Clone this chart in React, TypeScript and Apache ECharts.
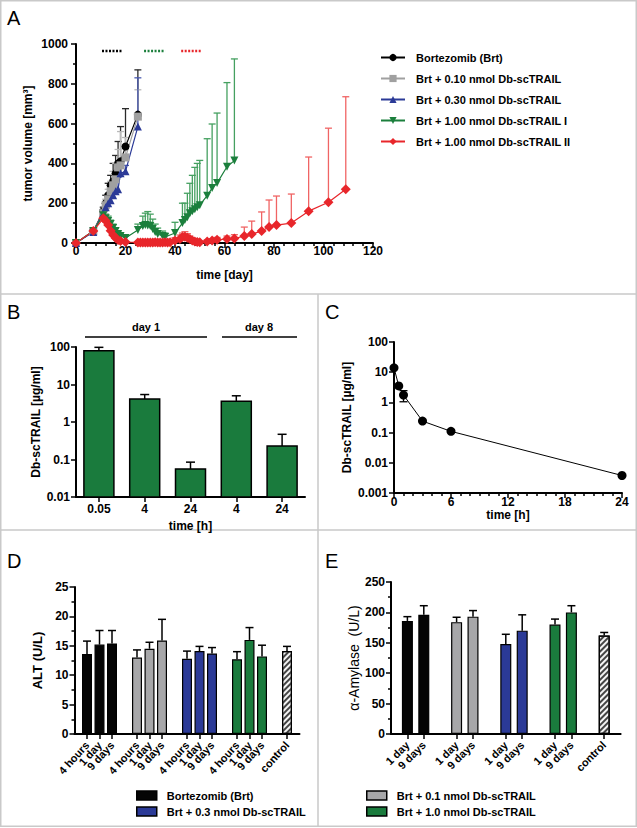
import React, { useEffect, useRef } from 'react';
import * as echarts from 'echarts';

const FONT = "'Liberation Sans', Arial, Helvetica, sans-serif";

// ---------- Panel A: tumor volume ----------
const aDaysEarly = [0, 7, 11, 12, 13, 14, 15, 16, 17, 18, 20, 25];
const aBrt = [0, 60, 160, 200, 240, 290, 310, 350, 400, 410, 485, 645];
const aBrtErr = [5, 10, 20, 40, 60, 50, 90, 90, 110, 175, 190, 225];
const aB01 = [0, 60, 150, 190, 220, 260, 290, 320, 380, 390, 430, 635];
const aB01Err = [5, 10, 20, 30, 50, 50, 70, 80, 90, 170, 100, 135];
const aB03 = [0, 55, 150, 180, 200, 215, 240, 260, 270, 350, 360, 585];
const aB03Err = [5, 10, 15, 25, 30, 35, 40, 50, 60, 30, 30, 245];
const aGreenDays = [0, 7, 11, 12, 13, 14, 15, 16, 17, 18, 20, 25, 27, 28, 29, 30, 31, 32, 33, 35, 36, 40, 43, 44, 45, 46, 47, 48, 49, 50, 53, 55, 57, 61, 64];
const aGreen = [0, 60, 140, 125, 110, 95, 75, 60, 45, 35, 25, 65, 85, 90, 88, 85, 70, 55, 45, 35, 30, 50, 100, 115, 130, 150, 160, 170, 180, 190, 238, 276, 301, 383, 414];
const aGreenErr = [5, 10, 15, 20, 25, 20, 20, 15, 15, 10, 10, 30, 50, 60, 70, 60, 50, 40, 30, 25, 20, 54, 100, 85, 120, 150, 180, 210, 220, 225, 286, 322, 352, 423, 511];
const aRedDays = [0, 7, 11, 12, 13, 14, 15, 16, 17, 18, 20, 25, 26, 27, 28, 29, 30, 31, 32, 33, 34, 35, 36, 37, 38, 40, 42, 43, 44, 45, 46, 47, 48, 49, 50, 53, 55, 57, 61, 64, 68, 71, 75, 78, 81, 87, 94, 102, 109];
const aRed = [0, 60, 124, 112, 90, 62, 40, 25, 15, 10, 5, 3, 2, 3, 2, 3, 2, 3, 4, 3, 2, 3, 4, 3, 4, 12, 20, 30, 32, 27, 20, 12, 8, 5, 4, 8, 12, 16, 20, 22, 35, 45, 60, 80, 90, 100, 160, 205, 270];
const aRedErr = [3, 8, 15, 18, 15, 10, 8, 6, 5, 4, 3, 3, 3, 3, 3, 3, 3, 3, 3, 3, 3, 3, 3, 3, 3, 15, 20, 20, 25, 20, 15, 10, 8, 5, 5, 8, 10, 12, 15, 20, 45, 65, 96, 136, 146, 146, 272, 372, 465];
const aTreatStart = [10.5, 27.5, 42.5];
const aTreatEnd = [18.5, 36, 50.5];
const aTreatLevel = 965;
const aNames = [
  'Bortezomib (Brt)',
  'Brt + 0.10 nmol Db-scTRAIL',
  'Brt + 0.30 nmol Db-scTRAIL',
  'Brt + 1.00 nmol Db-scTRAIL I',
  'Brt + 1.00 nmol Db-scTRAIL II',
];

// ---------- Panel B: serum levels ----------
const bCats = ['0.05', '4', '24', '4', '24'];
const bVals = [80, 4.1, 0.056, 3.6, 0.23];
const bErrHi = [98, 5.4, 0.085, 5.0, 0.47];
const bDayLabels = ['day 1', 'day 8'];

// ---------- Panel C: pharmacokinetics ----------
const cTime = [0, 0.5, 1, 3, 6, 24];
const cVals = [14, 3.5, 1.75, 0.24, 0.11, 0.0038];
const cErrTime = [1];
const cErrLo = [1.05];
const cErrHi = [2.45];

// ---------- Panel D: ALT ----------
const dTimes = ['4 hours', '1 day', '9 days'];
const dBrt = [13.6, 15.2, 15.4];
const dBrtHi = [15.8, 17.6, 17.6];
const d01 = [13.0, 14.5, 15.9];
const d01Hi = [14.3, 15.6, 19.5];
const d03 = [12.8, 14.1, 13.7];
const d03Hi = [14.1, 14.9, 14.7];
const d10 = [12.7, 16.0, 13.2];
const d10Hi = [14.0, 18.1, 15.1];
const dCtrl = [14.1];
const dCtrlHi = [14.9];

// ---------- Panel E: amylase ----------
const eTimes = ['1 day', '9 days'];
const eBrt = [186, 196];
const eBrtHi = [193, 211];
const e01 = [184, 193];
const e01Hi = [192, 203];
const e03 = [148, 170];
const e03Hi = [164, 196];
const e10 = [180, 200];
const e10Hi = [189, 211];
const eCtrl = [162];
const eCtrlHi = [167];

const groupNames = ['Bortezomib (Brt)', 'Brt + 0.1 nmol Db-scTRAIL', 'Brt + 0.3 nmol Db-scTRAIL', 'Brt + 1.0 nmol Db-scTRAIL'];
const ctrlName = 'control';

const C_BLACK = '#050505';
const C_GRAY = '#a7a7a9';
const C_BLUE = '#2b3a97';
const C_GREEN = '#1a7b3d';
const C_RED = '#e8262b';

function errSeries(name: string, xi: number, yi: number, data: any[], color: string, capW: number, lw: number, both = false) {
  return {
    type: 'custom',
    name,
    xAxisIndex: xi,
    yAxisIndex: yi,
    data,
    z: 1,
    silent: true,
    encode: { x: 0, y: [1, 2] },
    renderItem: (params: any, api: any) => {
      const x = api.value(0);
      const lo = api.value(1);
      const hi = api.value(2);
      const p1 = api.coord([x, lo]);
      const p2 = api.coord([x, hi]);
      const style = { stroke: color, lineWidth: lw, fill: 'none' };
      const children: any[] = [
        { type: 'line', shape: { x1: p1[0], y1: p1[1], x2: p2[0], y2: p2[1] }, style },
        { type: 'line', shape: { x1: p2[0] - capW / 2, y1: p2[1], x2: p2[0] + capW / 2, y2: p2[1] }, style },
      ];
      if (both) children.push({ type: 'line', shape: { x1: p1[0] - capW / 2, y1: p1[1], x2: p1[0] + capW / 2, y2: p1[1] }, style });
      return { type: 'group', children };
    },
  };
}

function buildCats(times: string[], nGroups: number) {
  const cats: string[] = [''];
  for (let g = 0; g < nGroups; g++) {
    cats.push(...times);
    cats.push('');
  }
  cats.push(ctrlName);
  cats.push('');
  return cats;
}
function slot(g: number, j: number, per: number) {
  return 1 + g * (per + 1) + j;
}

const axisLineS = { show: true, onZero: false, lineStyle: { color: '#000', width: 2 } };
const tickS = { show: true, length: 5, lineStyle: { color: '#000', width: 1.5 } };
const minorS = (n: number) => ({ show: true, splitNumber: n, length: 3, lineStyle: { color: '#000', width: 1.5 } });
const lbl = (size = 12, extra: any = {}) => ({ color: '#000', fontFamily: FONT, fontWeight: 'bold', fontSize: size, ...extra });
const nameS = (size = 12, weight = 'bold') => ({ color: '#000', fontFamily: FONT, fontWeight: weight, fontSize: size });
const plain = (v: number) => String(+(+v).toPrecision(3));

function buildOption() {
  const series: any[] = [];
  const xAxis: any[] = [];
  const yAxis: any[] = [];
  const grid: any[] = [];

  // ---- A ----
  grid.push({ left: 76, top: 44, width: 297, height: 199 });
  xAxis.push({
    type: 'value', gridIndex: 0, min: 0, max: 120, interval: 20,
    axisLine: axisLineS, axisTick: tickS, minorTick: minorS(5), splitLine: { show: false },
    axisLabel: lbl(12, { margin: 2, formatter: plain }),
    name: 'time [day]', nameLocation: 'middle', nameGap: 26, nameTextStyle: nameS(12),
  });
  yAxis.push({
    type: 'value', gridIndex: 0, min: 0, max: 1000, interval: 200,
    axisLine: axisLineS, axisTick: tickS, minorTick: minorS(2), splitLine: { show: false },
    axisLabel: lbl(12, { margin: 8, formatter: plain }),
    name: 'tumor volume [mm³]', nameLocation: 'middle', nameGap: 42, nameTextStyle: nameS(12),
  });
  const aSets = [
    { name: aNames[0], days: aDaysEarly, v: aBrt, e: aBrtErr, c: '#000', ec: '#2a2a2a', sym: 'circle', size: 8, rot: 0 },
    { name: aNames[1], days: aDaysEarly, v: aB01, e: aB01Err, c: '#a0a0a0', ec: '#b8b8b8', sym: 'rect', size: 8, rot: 0 },
    { name: aNames[2], days: aDaysEarly, v: aB03, e: aB03Err, c: C_BLUE, ec: '#4a5ab0', sym: 'triangle', size: 8, rot: 0 },
    { name: aNames[3], days: aGreenDays, v: aGreen, e: aGreenErr, c: '#1b7f3c', ec: '#45a060', sym: 'triangle', size: 8, rot: 180 },
    { name: aNames[4], days: aRedDays, v: aRed, e: aRedErr, c: C_RED, ec: '#f06464', sym: 'diamond', size: 10, rot: 0 },
  ];
  aSets.forEach((s, k) => {
    series.push(errSeries('errA' + k, 0, 0, s.days.map((d, i) => [d, s.v[i], s.v[i] + s.e[i]]), s.ec, 7, 1.3));
  });
  aSets.forEach((s) => {
    series.push({
      type: 'line', name: s.name, xAxisIndex: 0, yAxisIndex: 0, z: 3,
      data: s.days.map((d, i) => [d, s.v[i]]),
      symbol: s.sym, symbolSize: s.size, symbolRotate: s.rot, showSymbol: true,
      itemStyle: { color: s.c }, lineStyle: { color: s.c, width: 1.2 },
    });
  });
  const treatColors = ['#000', '#1b7f3c', C_RED];
  aTreatStart.forEach((st, k) => {
    series.push({
      type: 'line', name: 'treat' + k, xAxisIndex: 0, yAxisIndex: 0, symbol: 'none', silent: true,
      data: [[st, aTreatLevel], [aTreatEnd[k], aTreatLevel]],
      lineStyle: { color: treatColors[k], width: 2.5, type: [2, 1.5] },
    });
  });

  // ---- B ----
  grid.push({ left: 76, top: 347, width: 229, height: 150 });
  xAxis.push({
    type: 'category', gridIndex: 1, data: bCats, boundaryGap: true,
    axisLine: axisLineS, axisTick: { ...tickS, alignWithLabel: true }, splitLine: { show: false },
    axisLabel: lbl(12, { margin: 6 }),
    name: 'time [h]', nameLocation: 'middle', nameGap: 23, nameTextStyle: nameS(12),
  });
  yAxis.push({
    type: 'log', gridIndex: 1, logBase: 10, min: 0.01, max: 100,
    axisLine: axisLineS, axisTick: tickS, splitLine: { show: false },
    axisLabel: lbl(12, { margin: 6, formatter: plain }),
    name: 'Db-scTRAIL [µg/ml]', nameLocation: 'middle', nameGap: 34, nameTextStyle: nameS(12),
  });
  const bBase = 0.01;
  series.push(errSeries('errB', 1, 1, bVals.map((v, i) => [i, v, bErrHi[i]]), '#000', 9, 1.5));
  series.push({
    type: 'custom', name: 'barsB', xAxisIndex: 1, yAxisIndex: 1, z: 2,
    data: bVals.map((v, i) => [i, v]),
    encode: { x: 0, y: 1 },
    renderItem: (params: any, api: any) => {
      const i = api.value(0);
      const v = api.value(1);
      const top = api.coord([i, v]);
      const base = api.coord([i, bBase]);
      const w = 30;
      return {
        type: 'rect',
        shape: { x: top[0] - w / 2, y: top[1], width: w, height: base[1] - top[1] },
        style: { fill: C_GREEN, stroke: '#000', lineWidth: 1.5 },
      };
    },
  });

  // ---- C ----
  grid.push({ left: 394, top: 342, width: 228, height: 151 });
  xAxis.push({
    type: 'value', gridIndex: 2, min: 0, max: 24, interval: 6,
    axisLine: axisLineS, axisTick: tickS, minorTick: minorS(6), splitLine: { show: false },
    axisLabel: lbl(12, { margin: 3 }),
    name: 'time [h]', nameLocation: 'middle', nameGap: 16, nameTextStyle: nameS(12),
  });
  yAxis.push({
    type: 'log', gridIndex: 2, logBase: 10, min: 0.001, max: 100,
    axisLine: axisLineS, axisTick: tickS, splitLine: { show: false },
    axisLabel: lbl(12, { margin: 6, formatter: plain }),
    name: 'Db-scTRAIL [µg/ml]', nameLocation: 'middle', nameGap: 41, nameTextStyle: nameS(12),
  });
  series.push(errSeries('errC', 2, 2, cErrTime.map((t, i) => [t, cErrLo[i], cErrHi[i]]), '#000', 8, 1.3, true));
  series.push({
    type: 'line', name: 'pkC', xAxisIndex: 2, yAxisIndex: 2, z: 3,
    data: cTime.map((t, i) => [t, cVals[i]]),
    symbol: 'circle', symbolSize: 9, itemStyle: { color: '#000' }, lineStyle: { color: '#000', width: 1 },
  });

  // ---- D ----
  const dCats = buildCats(dTimes, 4);
  const dPer = dTimes.length;
  const dCtrlIdx = dCats.indexOf(ctrlName);
  grid.push({ left: 74.5, top: 587, width: 225, height: 147 });
  xAxis.push({
    type: 'category', gridIndex: 3, data: dCats, boundaryGap: false,
    axisLine: axisLineS,
    axisTick: { ...tickS, interval: (i: number, v: string) => v !== '' },
    axisLabel: lbl(11, { interval: 0, rotate: 48, margin: 9 }),
    splitLine: { show: false },
  });
  yAxis.push({
    type: 'value', gridIndex: 3, min: 0, max: 25, interval: 5,
    axisLine: axisLineS, axisTick: tickS, minorTick: minorS(2), splitLine: { show: false },
    axisLabel: lbl(12, { margin: 6 }),
    name: 'ALT (U/L)', nameLocation: 'middle', nameGap: 31, nameTextStyle: nameS(13),
  });
  const dGroups = [
    { v: dBrt, hi: dBrtHi, c: C_BLACK },
    { v: d01, hi: d01Hi, c: C_GRAY },
    { v: d03, hi: d03Hi, c: C_BLUE },
    { v: d10, hi: d10Hi, c: C_GREEN },
  ];
  const dErr: any[] = [];
  dGroups.forEach((g, gi) => {
    const data: any[] = dCats.map(() => null);
    g.v.forEach((v, j) => {
      const idx = slot(gi, j, dPer);
      data[idx] = v;
      dErr.push([idx, v, g.hi[j]]);
    });
    series.push({
      type: 'bar', name: 'D:' + groupNames[gi], xAxisIndex: 3, yAxisIndex: 3, z: 2,
      data, barWidth: 10, barGap: '-100%',
      itemStyle: { color: g.c, borderColor: '#000', borderWidth: 1.2 },
    });
  });
  {
    const data: any[] = dCats.map(() => null);
    data[dCtrlIdx] = dCtrl[0];
    dErr.push([dCtrlIdx, dCtrl[0], dCtrlHi[0]]);
    series.push({
      type: 'bar', name: 'D:' + ctrlName, xAxisIndex: 3, yAxisIndex: 3, z: 2,
      data, barWidth: 10, barGap: '-100%',
      itemStyle: {
        color: '#f4f4f4', borderColor: '#000', borderWidth: 1.2,
        decal: { symbol: 'rect', symbolSize: 1, color: '#444', dashArrayX: [1, 0], dashArrayY: [1.5, 2], rotation: -Math.PI / 4 },
      },
    });
  }
  series.push(errSeries('errD', 3, 3, dErr, '#000', 8, 1.5));

  // ---- E ----
  const eCats = buildCats(eTimes, 4);
  const ePer = eTimes.length;
  const eCtrlIdx = eCats.indexOf(ctrlName);
  grid.push({ left: 391, top: 582, width: 229.6, height: 152 });
  xAxis.push({
    type: 'category', gridIndex: 4, data: eCats, boundaryGap: false,
    axisLine: axisLineS,
    axisTick: { ...tickS, interval: (i: number, v: string) => v !== '' },
    axisLabel: lbl(11, { interval: 0, rotate: 45, margin: 9 }),
    splitLine: { show: false },
  });
  yAxis.push({
    type: 'value', gridIndex: 4, min: 0, max: 250, interval: 50,
    axisLine: axisLineS, axisTick: tickS, minorTick: minorS(2), splitLine: { show: false },
    axisLabel: lbl(12, { margin: 6 }),
    name: 'α-Amylase  (U/L)', nameLocation: 'middle', nameGap: 25, nameTextStyle: nameS(14, 'normal'),
  });
  const eGroups = [
    { v: eBrt, hi: eBrtHi, c: C_BLACK },
    { v: e01, hi: e01Hi, c: C_GRAY },
    { v: e03, hi: e03Hi, c: C_BLUE },
    { v: e10, hi: e10Hi, c: C_GREEN },
  ];
  const eErr: any[] = [];
  eGroups.forEach((g, gi) => {
    const data: any[] = eCats.map(() => null);
    g.v.forEach((v, j) => {
      const idx = slot(gi, j, ePer);
      data[idx] = v;
      eErr.push([idx, v, g.hi[j]]);
    });
    series.push({
      type: 'bar', name: 'E:' + groupNames[gi], xAxisIndex: 4, yAxisIndex: 4, z: 2,
      data, barWidth: 11, barGap: '-100%',
      itemStyle: { color: g.c, borderColor: '#000', borderWidth: 1.2 },
    });
  });
  {
    const data: any[] = eCats.map(() => null);
    data[eCtrlIdx] = eCtrl[0];
    eErr.push([eCtrlIdx, eCtrl[0], eCtrlHi[0]]);
    series.push({
      type: 'bar', name: 'E:' + ctrlName, xAxisIndex: 4, yAxisIndex: 4, z: 2,
      data, barWidth: 11, barGap: '-100%',
      itemStyle: {
        color: '#f4f4f4', borderColor: '#000', borderWidth: 1.2,
        decal: { symbol: 'rect', symbolSize: 1, color: '#444', dashArrayX: [1, 0], dashArrayY: [1.5, 2], rotation: -Math.PI / 4 },
      },
    });
  }
  series.push(errSeries('errE', 4, 4, eErr, '#000', 8, 1.5));

  const strip = (n: string) => n.replace(/^[A-Z]:/, '');
  const legend: any[] = [
    {
      data: aNames, orient: 'vertical', left: 375, top: 47, itemWidth: 24, itemHeight: 9, itemGap: 10,
      selectedMode: false, textStyle: { ...lbl(11), padding: [0, 0, 0, 6] },
    },
    {
      data: ['D:' + groupNames[0], 'D:' + groupNames[2]], orient: 'vertical', left: 136, top: 790, padding: 0,
      itemWidth: 20, itemHeight: 9, itemGap: 5, icon: 'rect', selectedMode: false, formatter: strip,
      itemStyle: { borderColor: '#000', borderWidth: 1.5 },
      textStyle: { ...lbl(11), padding: [0, 0, 0, 5] },
    },
    {
      data: ['E:' + groupNames[1], 'E:' + groupNames[3]], orient: 'vertical', left: 366, top: 790, padding: 0,
      itemWidth: 20, itemHeight: 9, itemGap: 5, icon: 'rect', selectedMode: false, formatter: strip,
      itemStyle: { borderColor: '#000', borderWidth: 1.5 },
      textStyle: { ...lbl(11), padding: [0, 0, 0, 5] },
    },
  ];

  const border = { stroke: '#c9c9c9', lineWidth: 1.5 };
  const letter = (t: string, x: number, y: number) => ({
    type: 'text', left: x, top: y, style: { text: t, fill: '#000', font: `20px ${FONT}` },
  });
  const graphic: any[] = [
    { type: 'rect', shape: { x: 0.75, y: 0.75, width: 635.5, height: 825.5 }, style: { ...border, fill: 'none' }, silent: true },
    { type: 'line', shape: { x1: 0, y1: 294, x2: 637, y2: 294 }, style: border, silent: true },
    { type: 'line', shape: { x1: 0, y1: 530, x2: 637, y2: 530 }, style: border, silent: true },
    { type: 'line', shape: { x1: 318, y1: 294, x2: 318, y2: 827 }, style: border, silent: true },
    letter('A', 7, 8),
    letter('B', 7, 302),
    letter('C', 325, 302),
    letter('D', 7, 551),
    letter('E', 325, 551),
    { type: 'line', shape: { x1: 85, y1: 337, x2: 207, y2: 337 }, style: { stroke: '#000', lineWidth: 1.5 }, silent: true },
    { type: 'line', shape: { x1: 222, y1: 337, x2: 297, y2: 337 }, style: { stroke: '#000', lineWidth: 1.5 }, silent: true },
    { type: 'text', x: 146, y: 327, style: { text: bDayLabels[0], fill: '#000', font: `bold 11px ${FONT}`, textAlign: 'center', textVerticalAlign: 'middle' } },
    { type: 'text', x: 259, y: 327, style: { text: bDayLabels[1], fill: '#000', font: `bold 11px ${FONT}`, textAlign: 'center', textVerticalAlign: 'middle' } },
  ];

  return {
    animation: false,
    backgroundColor: '#fff',
    textStyle: { fontFamily: FONT },
    grid, xAxis, yAxis, series, legend, graphic,
  };
}

export default function App() {
  const ref = useRef<HTMLDivElement>(null);
  useEffect(() => {
    const chart = echarts.init(ref.current as HTMLDivElement, null, { renderer: 'svg' });
    chart.setOption(buildOption() as any);
    return () => chart.dispose();
  }, []);
  return <div ref={ref} style={{ position: 'absolute', left: 0, top: 0, width: 637, height: 828, background: '#fff' }} />;
}
